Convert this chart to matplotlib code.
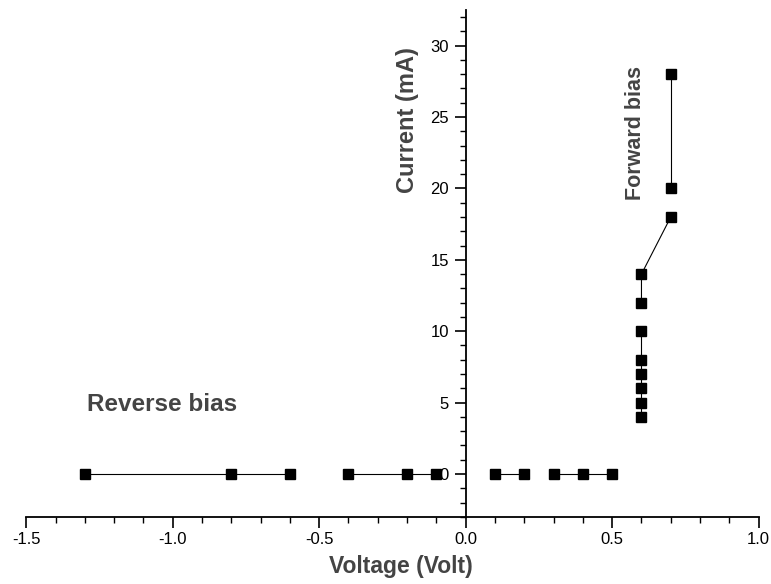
import matplotlib
matplotlib.use('Agg')
import matplotlib.pyplot as plt
from matplotlib.ticker import MultipleLocator

plt.rcParams['font.family'] = ['Liberation Sans', 'DejaVu Sans']

# 数据：电压 (V) 与电流 (mA)
voltage = [-1.3, -0.8, -0.6, -0.4, -0.2, -0.1, 0.1, 0.2, 0.3, 0.4, 0.5,
           0.6, 0.6, 0.6, 0.6, 0.6, 0.6, 0.6, 0.6, 0.7, 0.7, 0.7]
current = [0, 0, 0, 0, 0, 0, 0, 0, 0, 0, 0,
           4, 5, 6, 7, 8, 10, 12, 14, 18, 20, 28]
# 连线分段（每段为起止下标，含两端）
segments = [(0, 2), (3, 5), (6, 7), (8, 10), (11, 16), (17, 19), (20, 21)]

label_gray = '#444444'

fig = plt.figure(figsize=(7.71, 5.84), dpi=100)
ax = fig.add_axes([0.034, 0.115, 0.950, 0.868])

for a, b in segments:
    ax.plot(voltage[a:b + 1], current[a:b + 1], color='black', lw=0.8)
ax.plot(voltage, current, ls='none', marker='s', ms=7.5, color='black')

ax.set_xlim(-1.5, 1.0)
ax.set_ylim(-3, 32.5)

# 坐标轴：纵轴放在 x=0 处
ax.spines['left'].set_position(('data', 0))
ax.spines['right'].set_visible(False)
ax.spines['top'].set_visible(False)
ax.spines['left'].set_linewidth(1.3)
ax.spines['bottom'].set_linewidth(1.3)

ax.xaxis.set_major_locator(MultipleLocator(0.5))
ax.xaxis.set_minor_locator(MultipleLocator(0.1))
ax.yaxis.set_minor_locator(MultipleLocator(1))
ax.set_yticks([0, 5, 10, 15, 20, 25, 30])
ax.xaxis.set_major_formatter(plt.FuncFormatter(lambda v, p: f'{v:.1f}'))

ax.tick_params(which='major', direction='out', length=8, width=1.2, labelsize=12)
ax.tick_params(which='minor', direction='out', length=4, width=1.0)
ax.tick_params(axis='y', pad=4)
ax.tick_params(axis='x', pad=3)

# 文字标注
ax.text(-0.20, 24.8, 'Current (mA)', rotation=90, ha='center', va='center',
        fontsize=17, fontweight='bold', color=label_gray)
ax.text(0.58, 23.9, 'Forward bias', rotation=90, ha='center', va='center',
        fontsize=15.5, fontweight='bold', color=label_gray)
ax.text(-1.291, 4.9, 'Reverse bias', ha='left', va='center',
        fontsize=17.5, fontweight='bold', color=label_gray)
fig.text(401 / 771, 1 - 567 / 584, 'Voltage (Volt)', ha='center', va='center',
         fontsize=16.5, fontweight='bold', color=label_gray)

fig.savefig('out.png', dpi=100)
